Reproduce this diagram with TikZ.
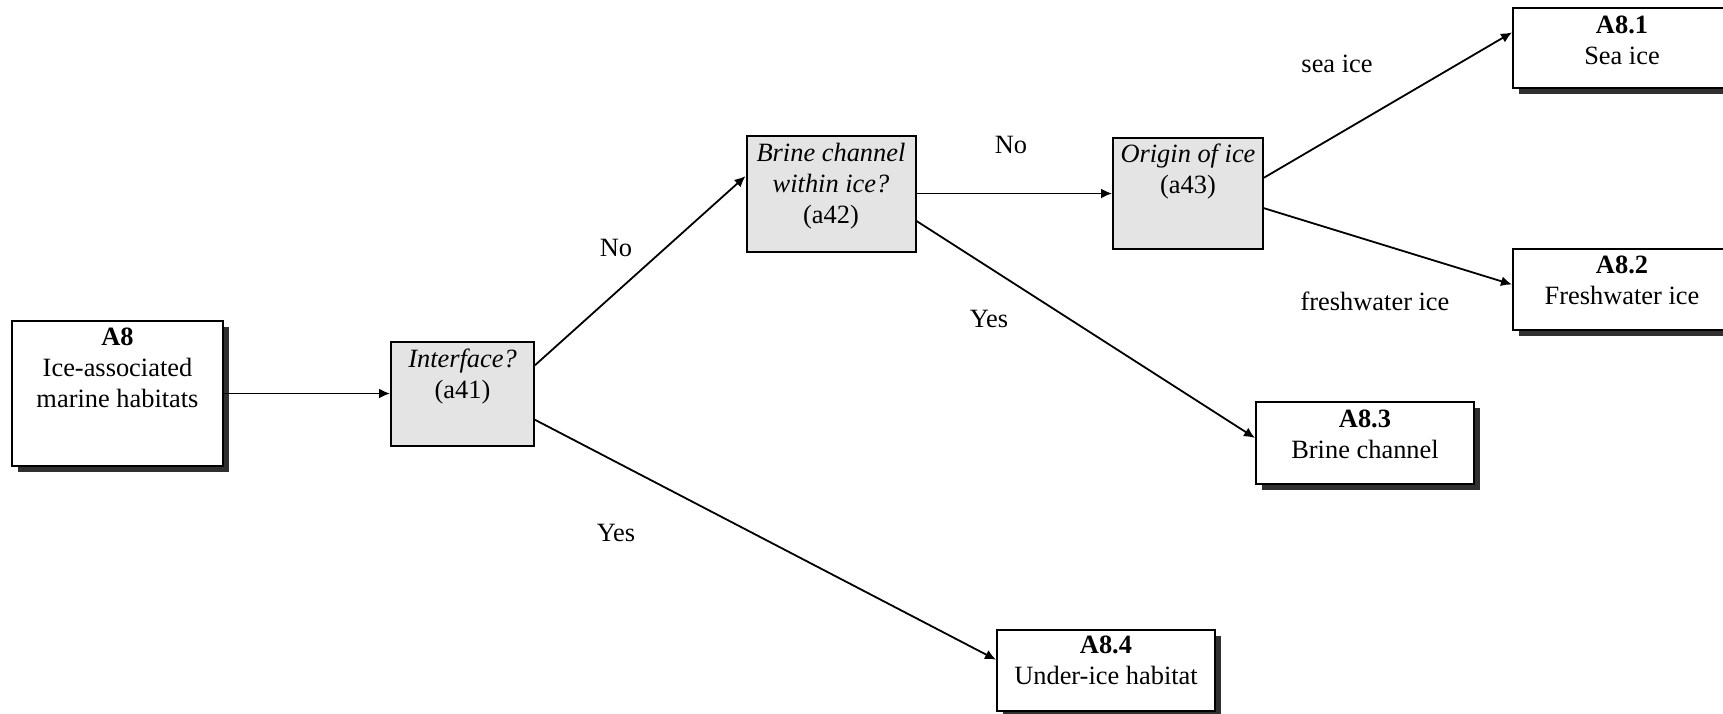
\documentclass[tikz,border=0pt]{standalone}
\usepackage{fontspec}
\setmainfont{Liberation Serif}
\usetikzlibrary{arrows.meta,shadows,calc}
\definecolor{qgray}{HTML}{E4E4E4}
\definecolor{shadowc}{HTML}{303030}
\begin{document}
\begin{tikzpicture}[x=0.5pt,y=-0.5pt,
  resbox/.style={draw=black, line width=1pt, fill=white, inner sep=0pt,
    general shadow={fill=shadowc, shadow xshift=2.75pt, shadow yshift=-2.75pt}},
  qbox/.style={draw=black, line width=1pt, fill=qgray, inner sep=0pt},
  boxtext/.style={inner sep=0pt, anchor=base, font=\fontsize{13.2}{15.6}\selectfont},
  lbl/.style={inner sep=0pt, anchor=base, font=\fontsize{13.2}{15.6}\selectfont},
  arr/.style={line width=0.9pt, -{Latex[length=5.5pt,width=5pt]}}]
\useasboundingbox (0,0) rectangle (1723,713);

% outcome boxes (white, with shadow)
\node[resbox, minimum width=105.5pt, minimum height=72.5pt] (a8)  at (117.5,393.5) {};
\node[resbox, minimum width=109pt, minimum height=40pt]   (a81) at (1622,48) {};
\node[resbox, minimum width=109pt, minimum height=40.5pt] (a82) at (1622,289.5) {};
\node[resbox, minimum width=109pt, minimum height=41pt]   (a83) at (1365,443) {};
\node[resbox, minimum width=109pt, minimum height=40.5pt] (a84) at (1106,670.5) {};

% question boxes (grey)
\node[qbox, minimum width=71.5pt, minimum height=52pt] (a41) at (462.5,393.5) {};
\node[qbox, minimum width=84.5pt, minimum height=58pt] (a42) at (831,193.5) {};
\node[qbox, minimum width=75pt, minimum height=55.5pt] (a43) at (1188,193.5) {};

% box texts
\node[boxtext] (a8t)  at (117.5,345) {\parbox[t]{120pt}{\centering\textbf{A8}\\Ice-associated\\marine habitats}};
\node[boxtext] (a81t) at (1622,33)  {\parbox[t]{120pt}{\centering\textbf{A8.1}\\Sea ice}};
\node[boxtext] (a82t) at (1622,273) {\parbox[t]{120pt}{\centering\textbf{A8.2}\\Freshwater ice}};
\node[boxtext] (a83t) at (1365,427) {\parbox[t]{120pt}{\centering\textbf{A8.3}\\Brine channel}};
\node[boxtext] (a84t) at (1106,653) {\parbox[t]{120pt}{\centering\textbf{A8.4}\\Under-ice habitat}};
\node[boxtext] (a41t) at (462.5,367) {\parbox[t]{120pt}{\centering\textit{Interface?}\\(a41)}};
\node[boxtext] (a42t) at (831,161)  {\parbox[t]{120pt}{\centering\textit{Brine channel}\\\textit{within ice?}\\(a42)}};
\node[boxtext] (a43t) at (1188,162) {\parbox[t]{120pt}{\centering\textit{Origin of ice}\\(a43)}};

% connectors
\draw[arr] (a8.east) -- (a41.west);
\draw[arr] ($(a41.north east)!0.233!(a41.south east)$) -- ($(a42.north west)!0.353!(a42.south west)$);
\draw[arr] ($(a41.north east)!0.748!(a41.south east)$) -- ($(a84.north west)!0.37!(a84.south west)$);
\draw[arr] (a42.east) -- (a43.west);
\draw[arr] ($(a42.north east)!0.733!(a42.south east)$) -- ($(a83.north west)!0.44!(a83.south west)$);
\draw[arr] ($(a43.north east)!0.36!(a43.south east)$) -- ($(a81.north west)!0.31!(a81.south west)$);
\draw[arr] ($(a43.north east)!0.63!(a43.south east)$) -- ($(a82.north west)!0.44!(a82.south west)$);

% branch labels
\node[lbl] (l1) at (616,256)  {No};
\node[lbl] (l2) at (616,541)  {Yes};
\node[lbl] (l3) at (1011,153) {No};
\node[lbl] (l4) at (989,327)  {Yes};
\node[lbl] (l5) at (1337,72)  {sea ice};
\node[lbl] (l6) at (1375,310) {freshwater ice};
\end{tikzpicture}
\end{document}
